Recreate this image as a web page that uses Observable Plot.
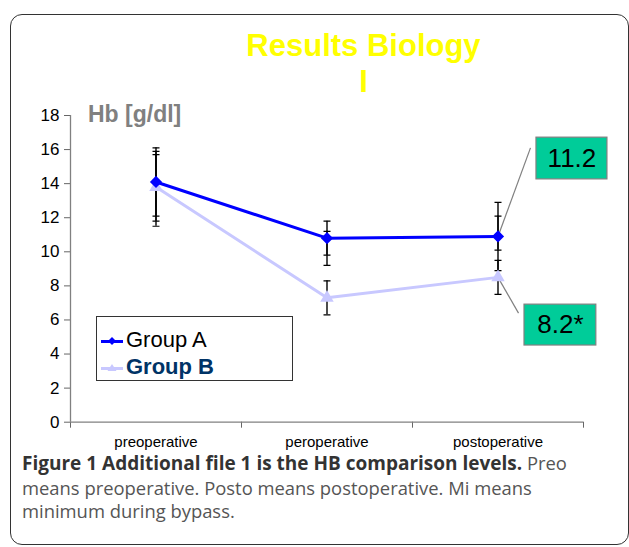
<!DOCTYPE html>
<html><head><meta charset="utf-8">
<script src="https://cdn.jsdelivr.net/npm/d3@7"></script>
<script src="https://cdn.jsdelivr.net/npm/@observablehq/plot@0.6"></script>
<style>
html,body{margin:0;padding:0;background:#fff}
body{width:629px;height:547px;overflow:hidden;position:relative;font-family:"Liberation Sans",Arial,sans-serif}
#frame{position:absolute;left:10px;top:14px;width:619px;height:531px;border:1.5px solid #333;border-radius:12px;box-sizing:border-box}
#title{position:absolute;left:0;width:727px;top:27.5px;text-align:center;font-weight:bold;font-size:31px;line-height:36px;color:#ffff00}
#ylabel{position:absolute;left:88px;top:101px;font-weight:bold;font-size:23px;color:#808080}
#chart{position:absolute;left:0;top:100px}
#legend{position:absolute;left:96px;top:316px;width:197px;height:65px;border:1.3px solid #333;box-sizing:border-box;background:#fff}
.row{position:absolute;left:4px;font-size:22px;line-height:26px;white-space:nowrap}
.row svg{vertical-align:middle;margin-right:3px}
#caption{position:absolute;left:22px;top:451px;font-family:"Open Sans",sans-serif;font-size:18.4px;line-height:23.5px;color:#555;white-space:nowrap}
#caption b{color:#333;font-size:19px}
</style></head>
<body>
<div id="frame"></div>
<div id="title">Results Biology<br>I</div>
<div id="chart"></div>
<div id="ylabel">Hb [g/dl]</div>
<div id="legend"></div>
<div id="caption"><b>Figure 1 Additional file 1 is the HB comparison levels.</b> Preo<br>means preoperative. Posto means postoperative. Mi means<br>minimum during bypass.</div>
<script>
const categories = ["preoperative", "peroperative", "postoperative"];
const seriesNames = ["Group A", "Group B"];
const groupA = [14.1, 10.8, 10.9];
const groupB = [13.8, 7.3, 8.5];
const errIndex = [0, 0, 0, 1, 1, 1, 2, 2, 2];
const errLow  = [12.1, 11.8, 11.5, 9.8, 9.2, 6.3, 8.9, 10.1, 7.5];
const errHigh = [16.1, 15.9, 15.7, 11.8, 11.2, 8.3, 12.9, 12.1, 9.5];
const yTicks = [0, 2, 4, 6, 8, 10, 12, 14, 16, 18];
// callout annotations (value labels), placed in data units
const calloutText = ["11.2", "8.2*"];
const calloutFrom = [groupA[2], groupB[2]];
const calloutX1 = [2.225, 2.155];
const calloutX2 = [2.64, 2.575];
const calloutY1 = [14.25, 4.5];
const calloutY2 = [16.7, 6.9];
const calloutTipX = [2.19, 2.12];
const calloutTipY = [16.1, 6.4];

const colA = "#0000ff", colB = "#c8c8ff";
const ptsA = categories.map((c, i) => ({i, v: groupA[i]}));
const ptsB = categories.map((c, i) => ({i, v: groupB[i]}));
const errs = errIndex.map((i, k) => ({i, lo: errLow[k], hi: errHigh[k]}));
const callouts = calloutText.map((t, k) => ({t, x: 2, y: calloutFrom[k], x1: calloutX1[k], x2: calloutX2[k], y1: calloutY1[k], y2: calloutY2[k], tx: calloutTipX[k], ty: calloutTipY[k]}));
const capSymbol = {draw(ctx, size) { const r = Math.sqrt(size / Math.PI); ctx.moveTo(-r, 0); ctx.lineTo(r, 0); ctx.closePath(); }};
const xDomain = [-0.5, categories.length - 0.5];
const xEdges = d3.range(categories.length + 1).map(k => k - 0.5);

const plot = Plot.plot({
  width: 629, height: 360,
  marginLeft: 70, marginRight: 46, marginTop: 15, marginBottom: 38.3,
  style: {background: "transparent", overflow: "visible", fontFamily: "Liberation Sans, Arial, sans-serif"},
  x: {domain: xDomain},
  y: {domain: [0, 18]},
  marks: [
    Plot.axisY({ticks: yTicks, tickSize: 6, tickPadding: 5, fontSize: 17, color: "#000", stroke: "#666", label: null}),
    Plot.axisX({ticks: xEdges, tickSize: 6, tickFormat: () => "", stroke: "#666", label: null}),
    Plot.axisX({ticks: d3.range(categories.length), tickSize: 0, tickPadding: 14, tickFormat: i => categories[i], fontSize: 15, color: "#000", label: null}),
    Plot.ruleX([xDomain[0]], {y1: 0, y2: 18, stroke: "#808080", strokeWidth: 1.3}),
    Plot.ruleY([0], {x1: xDomain[0], x2: xDomain[1], stroke: "#808080", strokeWidth: 1.3}),
    Plot.link(callouts, {x1: "x", y1: "y", x2: "tx", y2: "ty", stroke: "#808080", strokeWidth: 1.2}),
    Plot.rect(callouts, {x1: "x1", x2: "x2", y1: "y1", y2: "y2", fill: "#00cc99", stroke: "#808080", strokeWidth: 1.2}),
    Plot.text(callouts, {x: d => (d.x1 + d.x2) / 2, y: d => (d.y1 + d.y2) / 2, text: "t", fontSize: 26, fill: "#000"}),
    Plot.line(ptsB, {x: "i", y: "v", stroke: colB, strokeWidth: 3}),
    Plot.line(ptsA, {x: "i", y: "v", stroke: colA, strokeWidth: 3}),
    Plot.ruleX(errs, {x: "i", y1: "lo", y2: "hi", stroke: "#000", strokeWidth: 1.4}),
    Plot.dot(errs, {x: "i", y: "lo", symbol: capSymbol, r: 3.5, stroke: "#000", strokeWidth: 1.2}),
    Plot.dot(errs, {x: "i", y: "hi", symbol: capSymbol, r: 3.5, stroke: "#000", strokeWidth: 1.2}),
    Plot.dot(ptsB, {x: "i", y: "v", symbol: "triangle", r: 5, fill: colB}),
    Plot.dot(ptsA, {x: "i", y: "v", symbol: "diamond2", r: 5.5, fill: colA})
  ]
});
document.getElementById("chart").appendChild(plot);

function swatch(color, sym) {
  const shape = sym === "diamond"
    ? `<path d="M11,1 L15,5 L11,9 L7,5Z" fill="${color}"/>`
    : `<path d="M11,1 L15.5,8 L6.5,8Z" fill="${color}"/>`;
  return `<svg width="22" height="11"><line x1="0" y1="5.5" x2="22" y2="5.5" stroke="${color}" stroke-width="3"/>${shape}</svg>`;
}
const legend = document.getElementById("legend");
legend.innerHTML =
  `<div class="row" style="top:10px;color:#000">${swatch(colA, "diamond")}${seriesNames[0]}</div>` +
  `<div class="row" style="top:37px;color:#003366;font-weight:bold">${swatch(colB, "triangle")}${seriesNames[1]}</div>`;
</script>
</body></html>
